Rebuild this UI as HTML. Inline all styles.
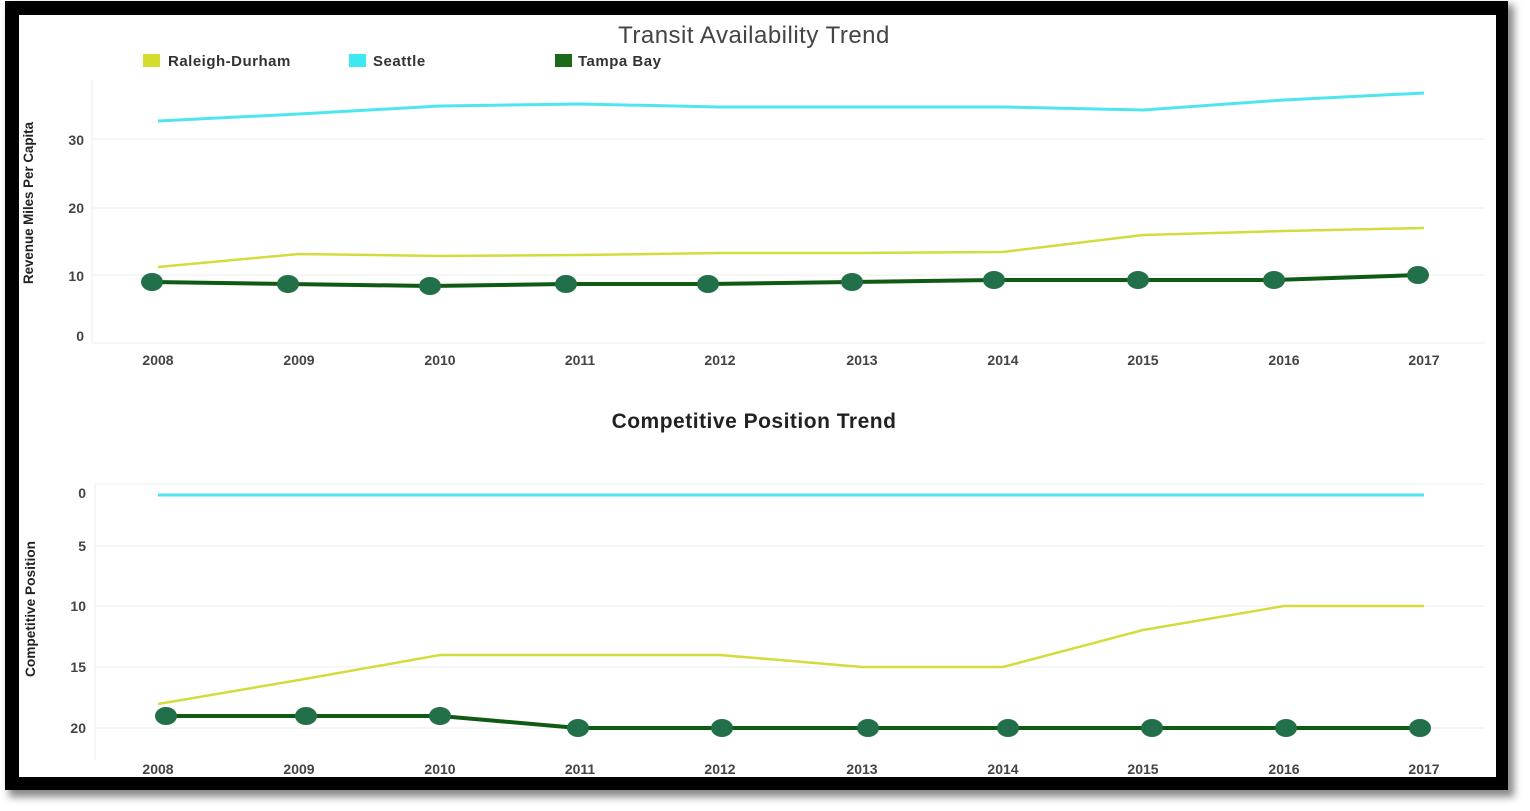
<!DOCTYPE html>
<html><head><style>
body{margin:0;width:1530px;height:811px;background:#fff;overflow:hidden}
svg{display:block}
</style></head><body>
<svg width="1530" height="811" xmlns="http://www.w3.org/2000/svg" font-family="'Liberation Sans',sans-serif">
<defs><filter id="sh" x="-5%" y="-5%" width="110%" height="110%"><feGaussianBlur stdDeviation="4"/></filter></defs>
<rect x="9" y="5" width="1505" height="792" fill="#888" filter="url(#sh)"/>
<rect x="5" y="1" width="1503" height="789" fill="#000"/>
<rect x="19" y="15" width="1477" height="762" fill="#fff"/>
<text x="754" y="43" text-anchor="middle" font-size="24" fill="#444" letter-spacing="0.5">Transit Availability Trend</text>
<rect x="143" y="54" width="17" height="13" fill="#d4dc2c"/><text x="168" y="66" font-size="15" fill="#333" font-weight="bold" letter-spacing="0.5">Raleigh-Durham</text>
<rect x="349" y="54" width="17" height="13" fill="#3ee8f0"/><text x="373" y="66" font-size="15" fill="#333" font-weight="bold" letter-spacing="0.5">Seattle</text>
<rect x="555" y="54" width="17" height="13" fill="#1a6a1a"/><text x="578" y="66" font-size="15" fill="#333" font-weight="bold" letter-spacing="0.5">Tampa Bay</text>
<g stroke="#eee" stroke-width="1">
<line x1="92" y1="139" x2="1485" y2="139"/><line x1="92" y1="208" x2="1485" y2="208"/><line x1="92" y1="275" x2="1485" y2="275"/><line x1="92" y1="343" x2="1485" y2="343"/>
<line x1="92" y1="80" x2="92" y2="343"/>
<line x1="95" y1="484" x2="1485" y2="484"/><line x1="95" y1="546" x2="1485" y2="546"/><line x1="95" y1="606" x2="1485" y2="606"/><line x1="95" y1="667" x2="1485" y2="667"/><line x1="95" y1="728" x2="1485" y2="728"/>
<line x1="95" y1="484" x2="95" y2="760"/>
</g>
<g font-size="14" font-weight="bold" fill="#444" text-anchor="end">
<text x="84" y="145">30</text><text x="84" y="213">20</text><text x="84" y="281">10</text><text x="84" y="341">0</text>
<text x="86" y="498">0</text><text x="86" y="551">5</text><text x="86" y="611">10</text><text x="86" y="672">15</text><text x="86" y="733">20</text>
</g>
<g font-size="14" font-weight="bold" fill="#444" text-anchor="middle">
<text x="158" y="365">2008</text><text x="299" y="365">2009</text><text x="440" y="365">2010</text><text x="580" y="365">2011</text><text x="720" y="365">2012</text><text x="862" y="365">2013</text><text x="1003" y="365">2014</text><text x="1143" y="365">2015</text><text x="1284" y="365">2016</text><text x="1424" y="365">2017</text>
<text x="158" y="774">2008</text><text x="299" y="774">2009</text><text x="440" y="774">2010</text><text x="580" y="774">2011</text><text x="720" y="774">2012</text><text x="862" y="774">2013</text><text x="1003" y="774">2014</text><text x="1143" y="774">2015</text><text x="1284" y="774">2016</text><text x="1424" y="774">2017</text>
</g>
<text transform="translate(33,203) rotate(-90)" text-anchor="middle" font-size="14" font-weight="bold" fill="#222" textLength="162" lengthAdjust="spacingAndGlyphs">Revenue Miles Per Capita</text>
<text transform="translate(35,609) rotate(-90)" text-anchor="middle" font-size="14" font-weight="bold" fill="#222" textLength="136" lengthAdjust="spacingAndGlyphs">Competitive Position</text>
<text x="754" y="428" text-anchor="middle" font-size="21" font-weight="bold" fill="#222" letter-spacing="0.5">Competitive Position Trend</text>
<g fill="none" stroke-linejoin="round">
<polyline stroke="#4ee6ee" stroke-width="3" points="158,121 299,114 440,106 580,104 720,107 862,107 1003,107 1143,110 1284,100 1424,93"/>
<polyline stroke="#d4dc3c" stroke-width="2.5" points="158,267 299,254 440,256 580,255 720,253 862,253 1003,252 1143,235 1284,231 1424,228"/>
<polyline stroke="#0f5a14" stroke-width="4" points="152,282 288,284 430,286 566,284 708,284 852,282 994,280 1138,280 1274,280 1418,275"/>
<polyline stroke="#4ee6ee" stroke-width="3" points="158,495 1424,495"/>
<polyline stroke="#d4dc3c" stroke-width="2.5" points="158,704 299,680 440,655 580,655 720,655 862,667 1003,667 1143,630 1284,606 1424,606"/>
<polyline stroke="#0f5a14" stroke-width="4" points="166,716 306,716 440,716 578,728 722,728 868,728 1008,728 1152,728 1286,728 1420,728"/>
</g>
<g fill="#21704a">
<ellipse cx="152" cy="282" rx="11" ry="9"/><ellipse cx="288" cy="284" rx="11" ry="9"/><ellipse cx="430" cy="286" rx="11" ry="9"/><ellipse cx="566" cy="284" rx="11" ry="9"/><ellipse cx="708" cy="284" rx="11" ry="9"/><ellipse cx="852" cy="282" rx="11" ry="9"/><ellipse cx="994" cy="280" rx="11" ry="9"/><ellipse cx="1138" cy="280" rx="11" ry="9"/><ellipse cx="1274" cy="280" rx="11" ry="9"/><ellipse cx="1418" cy="275" rx="11" ry="9"/>
<ellipse cx="166" cy="716" rx="11" ry="9"/><ellipse cx="306" cy="716" rx="11" ry="9"/><ellipse cx="440" cy="716" rx="11" ry="9"/><ellipse cx="578" cy="728" rx="11" ry="9"/><ellipse cx="722" cy="728" rx="11" ry="9"/><ellipse cx="868" cy="728" rx="11" ry="9"/><ellipse cx="1008" cy="728" rx="11" ry="9"/><ellipse cx="1152" cy="728" rx="11" ry="9"/><ellipse cx="1286" cy="728" rx="11" ry="9"/><ellipse cx="1420" cy="728" rx="11" ry="9"/>
</g>
</svg>
</body></html>
